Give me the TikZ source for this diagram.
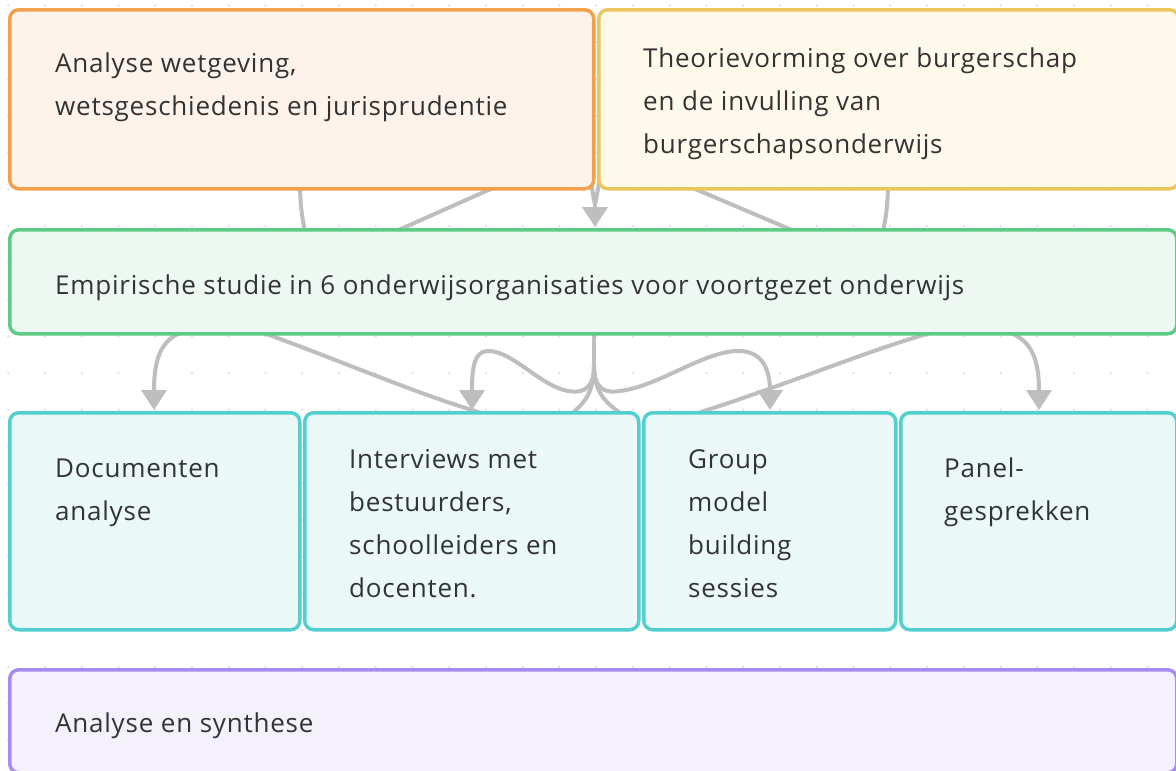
\documentclass[tikz,border=0pt]{standalone}
\usepackage{fontspec}
\setmainfont{Open Sans}[LetterSpace=3]
\usetikzlibrary{arrows.meta}
\definecolor{txtc}{HTML}{333333}
\definecolor{edgec}{HTML}{BEBEBE}
\definecolor{dotc}{HTML}{DADADA}
\definecolor{oraB}{HTML}{F2A04E}\definecolor{oraF}{HTML}{FDF3EA}
\definecolor{yelB}{HTML}{EBC65C}\definecolor{yelF}{HTML}{FEF9EB}
\definecolor{grnB}{HTML}{5DCB88}\definecolor{grnF}{HTML}{EEF8F2}
\definecolor{cyaB}{HTML}{52D0CF}\definecolor{cyaF}{HTML}{EAF8F8}
\definecolor{purB}{HTML}{A88BF2}\definecolor{purF}{HTML}{F4F1FD}
\begin{document}
\begin{tikzpicture}[x=1pt,y=-1pt,
  box/.style={draw, line width=3.5pt, rounded corners=9pt, anchor=north west, inner sep=0pt},
  txt/.style={anchor=base west, inner sep=0pt, text=txtc, font=\fontsize{26}{43}\selectfont},
  edge/.style={draw=edgec, line width=4pt},
  tip/.style={-{Triangle[width=25pt,length=20pt]}}]
\useasboundingbox (0,0) rectangle (1176,771);
\clip (0,0) rectangle (1176,771);
\fill[white] (0,0) rectangle (1176,771);
% dotted grid
\foreach \i in {0,...,32}{\foreach \j in {0,...,21}{
  \fill[dotc] (8.25+36.75*\i,5.5+36.75*\j) circle (1.1pt);}}
% connector end points
\coordinate (a1) at (300,180); \coordinate (e1) at (306,236);
\coordinate (a2) at (511,180); \coordinate (e2) at (385,236);
\coordinate (a3) at (590,178); \coordinate (b3) at (600,178);
\coordinate (m3) at (595,205); \coordinate (e3) at (595,227);
\coordinate (b4) at (674,180); \coordinate (e4) at (806,236);
\coordinate (b5) at (888,180); \coordinate (e5) at (882,236);
\coordinate (s6) at (190,330); \coordinate (d6) at (154,410);
\coordinate (s7) at (255,330); \coordinate (d7) at (492,416);
\coordinate (st) at (594,330); \coordinate (sj) at (594,366);
\coordinate (d9) at (472,410); \coordinate (d10) at (770,410);
\coordinate (d11) at (563,420); \coordinate (d12) at (632,420);
\coordinate (s13) at (942,330); \coordinate (d13) at (688,416);
\coordinate (s14) at (1000,330); \coordinate (d14) at (1039,410);
% connectors
\draw[edge] (a1) .. controls (300,205) and (302,218) .. (e1);
\draw[edge] (a2) -- (e2);
\draw[edge] (a3) -- (m3);
\draw[edge] (b3) -- (m3);
\draw[edge,tip] (m3) -- (e3);
\draw[edge] (b4) -- (e4);
\draw[edge] (b5) .. controls (888,205) and (886,218) .. (e5);
\draw[edge,tip] (s6) .. controls (162,336) and (154,356) .. (d6);
\draw[edge] (s7) .. controls (330,356) and (420,396) .. (d7);
\draw[edge] (st) -- (sj);
\draw[edge,tip] (sj) .. controls (594,386) and (586,394) .. (568,391)
  .. controls (540,386) and (512,350) .. (487,351)
  .. controls (474,352) and (472,368) .. (d9);
\draw[edge,tip] (sj) .. controls (594,386) and (602,394) .. (620,391)
  .. controls (660,386) and (705,350) .. (740,351)
  .. controls (764,352) and (770,372) .. (d10);
\draw[edge] (sj) .. controls (594,392) and (585,405) .. (d11);
\draw[edge] (sj) .. controls (594,392) and (605,405) .. (d12);
\draw[edge] (s13) .. controls (880,345) and (780,388) .. (d13);
\draw[edge,tip] (s14) .. controls (1030,336) and (1039,356) .. (d14);
% boxes
\node[box, draw=oraB, fill=oraF, minimum width=584pt, minimum height=179pt] (A) at (8,8) {};
\node[box, draw=yelB, fill=yelF, minimum width=580pt, minimum height=179pt] (B) at (597,8) {};
\node[box, draw=grnB, fill=grnF, minimum width=1167pt, minimum height=104pt] (E) at (8,228) {};
\node[box, draw=cyaB, fill=cyaF, minimum width=290pt, minimum height=217pt] (D) at (8,411) {};
\node[box, draw=cyaB, fill=cyaF, minimum width=334pt, minimum height=217pt] (I) at (303,411) {};
\node[box, draw=cyaB, fill=cyaF, minimum width=252pt, minimum height=217pt] (G) at (642,411) {};
\node[box, draw=cyaB, fill=cyaF, minimum width=276pt, minimum height=217pt] (P) at (899,411) {};
\node[box, draw=purB, fill=purF, minimum width=1167pt, minimum height=103pt] (S) at (8,668) {};
% texts
\node[txt] (tA) at (55,72) {\parbox[t]{520pt}{\raggedright Analyse wetgeving,\\wetsgeschiedenis en jurisprudentie}};
\node[txt] (tB) at (643,67) {\parbox[t]{520pt}{\raggedright Theorievorming over burgerschap\\en de invulling van\\burgerschapsonderwijs}};
\node[txt] (tE) at (55,294) {Empirische studie in 6 onderwijsorganisaties voor voortgezet onderwijs};
\node[txt] (tD) at (55,477) {\parbox[t]{230pt}{\raggedright Documenten\\analyse}};
\node[txt] (tI) at (349,468) {\parbox[t]{280pt}{\raggedright Interviews met\\bestuurders,\\schoolleiders en\\docenten.}};
\node[txt] (tG) at (688,468) {\parbox[t]{200pt}{\raggedright Group\\model\\building\\sessies}};
\node[txt] (tP) at (944,477) {\parbox[t]{220pt}{\raggedright Panel-\\gesprekken}};
\node[txt] (tS) at (55,732) {Analyse en synthese};
\end{tikzpicture}
\end{document}
